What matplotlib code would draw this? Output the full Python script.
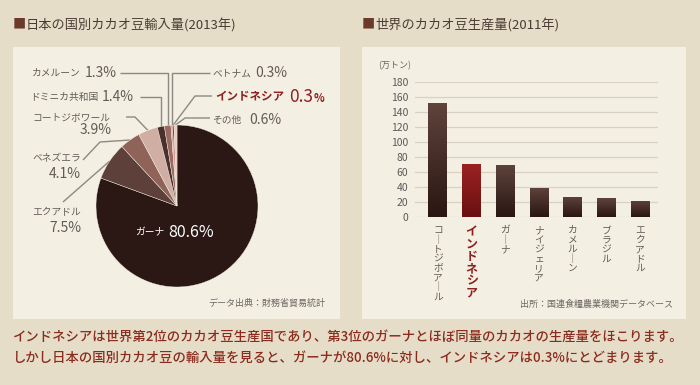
import numpy as np
import matplotlib
matplotlib.use("Agg")
import matplotlib.pyplot as plt
from matplotlib.patches import Rectangle
from matplotlib.colors import LinearSegmentedColormap

plt.rcParams['font.family'] = ['Noto Sans CJK JP', 'DejaVu Sans']

# --- data ---
pie_names = ['ガーナ', 'エクアドル', 'ベネズエラ', 'コートジボワール', 'ドミニカ共和国',
             'カメルーン', 'ベトナム', 'インドネシア', 'その他']
pie_values = [80.6, 7.5, 4.1, 3.9, 1.4, 1.3, 0.3, 0.3, 0.6]
pie_colors = ['#2b1814', '#5e403a', '#8f6358', '#d0aea3', '#4b302b',
              '#9a6b60', '#c79a90', '#a3282a', '#e8cac1']

bar_names = ['コートジボアール', 'インドネシア', 'ガーナ', 'ナイジェリア',
             'カメルーン', 'ブラジル', 'エクアドル']
bar_values = [152, 71, 70, 39, 27, 25, 22]
y_ticks = [0, 20, 40, 60, 80, 100, 120, 140, 160, 180]

title_left = '日本の国別カカオ豆輸入量(2013年)'
title_right = '世界のカカオ豆生産量(2011年)'
note_lines = ['インドネシアは世界第2位のカカオ豆生産国であり、第3位のガーナとほぼ同量のカカオの生産量をほこります。',
              'しかし日本の国別カカオ豆の輸入量を見ると、ガーナが80.6%に対し、インドネシアは0.3%にとどまります。']

W, H = 700, 385
OUTER = '#e6ddc9'
PANEL = '#f4efe3'
GRAY = '#625c57'
RED = '#8e1f1f'
LINE = '#8d8882'

fig = plt.figure(figsize=(W / 100, H / 100), dpi=100)
fig.patch.set_facecolor(OUTER)


def frac(x0, y0, x1, y1):
    # pixel box (top-left origin) -> figure fraction rect
    return [x0 / W, 1 - y1 / H, (x1 - x0) / W, (y1 - y0) / H]


# background layer in pixel coordinates
bg = fig.add_axes([0, 0, 1, 1], zorder=0)
bg.set_xlim(0, W)
bg.set_ylim(H, 0)
bg.axis('off')
bg.add_patch(Rectangle((13, 47), 327, 272, facecolor=PANEL, edgecolor='none'))
bg.add_patch(Rectangle((362, 47), 324, 272, facecolor=PANEL, edgecolor='none'))

for x, t in [(13, title_left), (362, title_right)]:
    bg.text(x, 25, '■', fontsize=9.5, color='#6b3a2b', va='center', ha='left')
    bg.text(x + 13, 25, t, fontsize=9.5, color='#4a3b33', va='center', ha='left')

bg.text(325, 303, 'データ出典：財務省貿易統計', fontsize=6.5, color='#6d6762', ha='right', va='center')
bg.text(673, 304, '出所：国連食糧農業機関データベース', fontsize=6.5, color='#6d6762', ha='right', va='center')
bg.text(378, 66, '(万トン)', fontsize=6.5, color='#666', ha='left', va='center')

for i, line in enumerate(note_lines):
    bg.text(13, 337 + i * 21, line, fontsize=9.6, color='#8a2b1e', fontweight='medium',
            ha='left', va='center')

# --- pie ---
ax_pie = fig.add_axes(frac(96, 125, 258, 287), zorder=1)
wedges, _ = ax_pie.pie(pie_values, colors=pie_colors, startangle=90, counterclock=False,
                       wedgeprops=dict(edgecolor=PANEL, linewidth=0.3))
ax_pie.set_xlim(-1, 1)
ax_pie.set_ylim(-1, 1)
ax_pie.set_aspect('equal')
ax_pie.axis('off')
ax_pie.patch.set_alpha(0)
ax_pie.text(-0.16, -0.33, 'ガーナ', fontsize=7, color='white', ha='right', va='center')
ax_pie.text(-0.11, -0.33, '80.6%', fontsize=11.5, color='white', ha='left', va='center')

to_px = ax_pie.transData + bg.transData.inverted()


def wedge_px(i):
    w = wedges[i]
    a = np.deg2rad((w.theta1 + w.theta2) / 2)
    return to_px.transform((np.cos(a), np.sin(a)))


def leader(pts):
    xs, ys = zip(*pts)
    bg.plot(xs, ys, color=LINE, lw=1.0, solid_capstyle='butt')


# leader lines
idx = {n: i for i, n in enumerate(pie_names)}
for name, x0, y0 in [('カメルーン', 120, 73), ('ドミニカ共和国', 140, 97), ('ベトナム', 210, 73)]:
    px, py = wedge_px(idx[name])
    leader([(x0, y0), (px, y0), (px, py)])
px, py = wedge_px(idx['コートジボワール'])
leader([(126, 117), (135, 117), (px, py)])
px, py = wedge_px(idx['ベネズエラ'])
leader([(83, 160), (100, 142), (px, py)])
px, py = wedge_px(idx['エクアドル'])
leader([(63, 202), (px, py)])
px, py = wedge_px(idx['インドネシア'])
leader([(212, 96), (195, 96), (px, py)])
px, py = wedge_px(idx['その他'])
leader([(210, 118), (185, 118), (px, py)])


def pct(i):
    return f'{pie_values[i]}%'


# labels
bg.text(81, 73, 'カメルーン', fontsize=7, color=GRAY, ha='right', va='center')
bg.text(85, 73, pct(idx['カメルーン']), fontsize=10, color=GRAY, ha='left', va='center')
bg.text(98, 97, 'ドミニカ共和国', fontsize=7, color=GRAY, ha='right', va='center')
bg.text(102, 97, pct(idx['ドミニカ共和国']), fontsize=10, color=GRAY, ha='left', va='center')
bg.text(32, 117, 'コートジボワール', fontsize=7, color=GRAY, ha='left', va='center')
bg.text(112, 130, pct(idx['コートジボワール']), fontsize=10, color=GRAY, ha='right', va='center')
bg.text(32, 158, 'ベネズエラ', fontsize=7, color=GRAY, ha='left', va='center')
bg.text(81, 174, pct(idx['ベネズエラ']), fontsize=10, color=GRAY, ha='right', va='center')
bg.text(32, 212, 'エクアドル', fontsize=7, color=GRAY, ha='left', va='center')
bg.text(81, 228, pct(idx['エクアドル']), fontsize=10, color=GRAY, ha='right', va='center')

bg.text(212, 73, 'ベトナム', fontsize=7, color=GRAY, ha='left', va='center')
bg.text(255, 73, pct(idx['ベトナム']), fontsize=10, color=GRAY, ha='left', va='center')
bg.text(215, 97, 'インドネシア', fontsize=8.3, color=RED, fontweight='bold', ha='left', va='center')
bg.text(289, 97, str(pie_values[idx['インドネシア']]), fontsize=12.5, color=RED, ha='left', va='center')
bg.text(314, 99, '%', fontsize=8, color=RED, fontweight='bold', ha='left', va='center')
bg.text(212, 120, 'その他', fontsize=7, color=GRAY, ha='left', va='center')
bg.text(249, 120, pct(idx['その他']), fontsize=10, color=GRAY, ha='left', va='center')

# --- bars ---
ax_bar = fig.add_axes(frac(415, 82, 658, 217), zorder=1)
ax_bar.patch.set_alpha(0)
xs = np.arange(len(bar_values))
bars = ax_bar.bar(xs, bar_values, width=0.56, color='none', zorder=3)
grad = np.linspace(0, 1, 64).reshape(-1, 1)
cm_brown = LinearSegmentedColormap.from_list('b', ['#2a1612', '#5f433c'])
cm_red = LinearSegmentedColormap.from_list('r', ['#6a1010', '#9c2222'])
for i, b in enumerate(bars):
    cm = cm_red if bar_names[i] == 'インドネシア' else cm_brown
    im = ax_bar.imshow(grad, extent=[b.get_x(), b.get_x() + b.get_width(), 0, b.get_height()],
                       origin='lower', cmap=cm, aspect='auto', zorder=3)
    im.set_clip_path(b)
ax_bar.set_xlim(-0.68, 6.53)
ax_bar.set_ylim(0, 180)
ax_bar.set_yticks(y_ticks)
ax_bar.set_yticklabels([str(v) for v in y_ticks])
ax_bar.tick_params(axis='y', length=0, pad=5, labelsize=7.5, labelcolor='#5a5a5a')
ax_bar.set_xticks([])
ax_bar.grid(axis='y', color='#d8d2c5', lw=0.9, zorder=0)
for s in ax_bar.spines.values():
    s.set_visible(False)

for i, name in enumerate(bar_names):
    vert = '\n'.join('｜' if c == 'ー' else c for c in name)
    is_red = name == 'インドネシア'
    ax_bar.annotate(vert, xy=(xs[i], 0), xytext=(0, -6), textcoords='offset points',
                    ha='center', va='top', fontsize=8.6 if is_red else 7,
                    color=RED if is_red else GRAY, fontweight='bold' if is_red else 'normal',
                    linespacing=0.93, annotation_clip=False)

fig.savefig('out.png', dpi=100, facecolor=fig.get_facecolor())
